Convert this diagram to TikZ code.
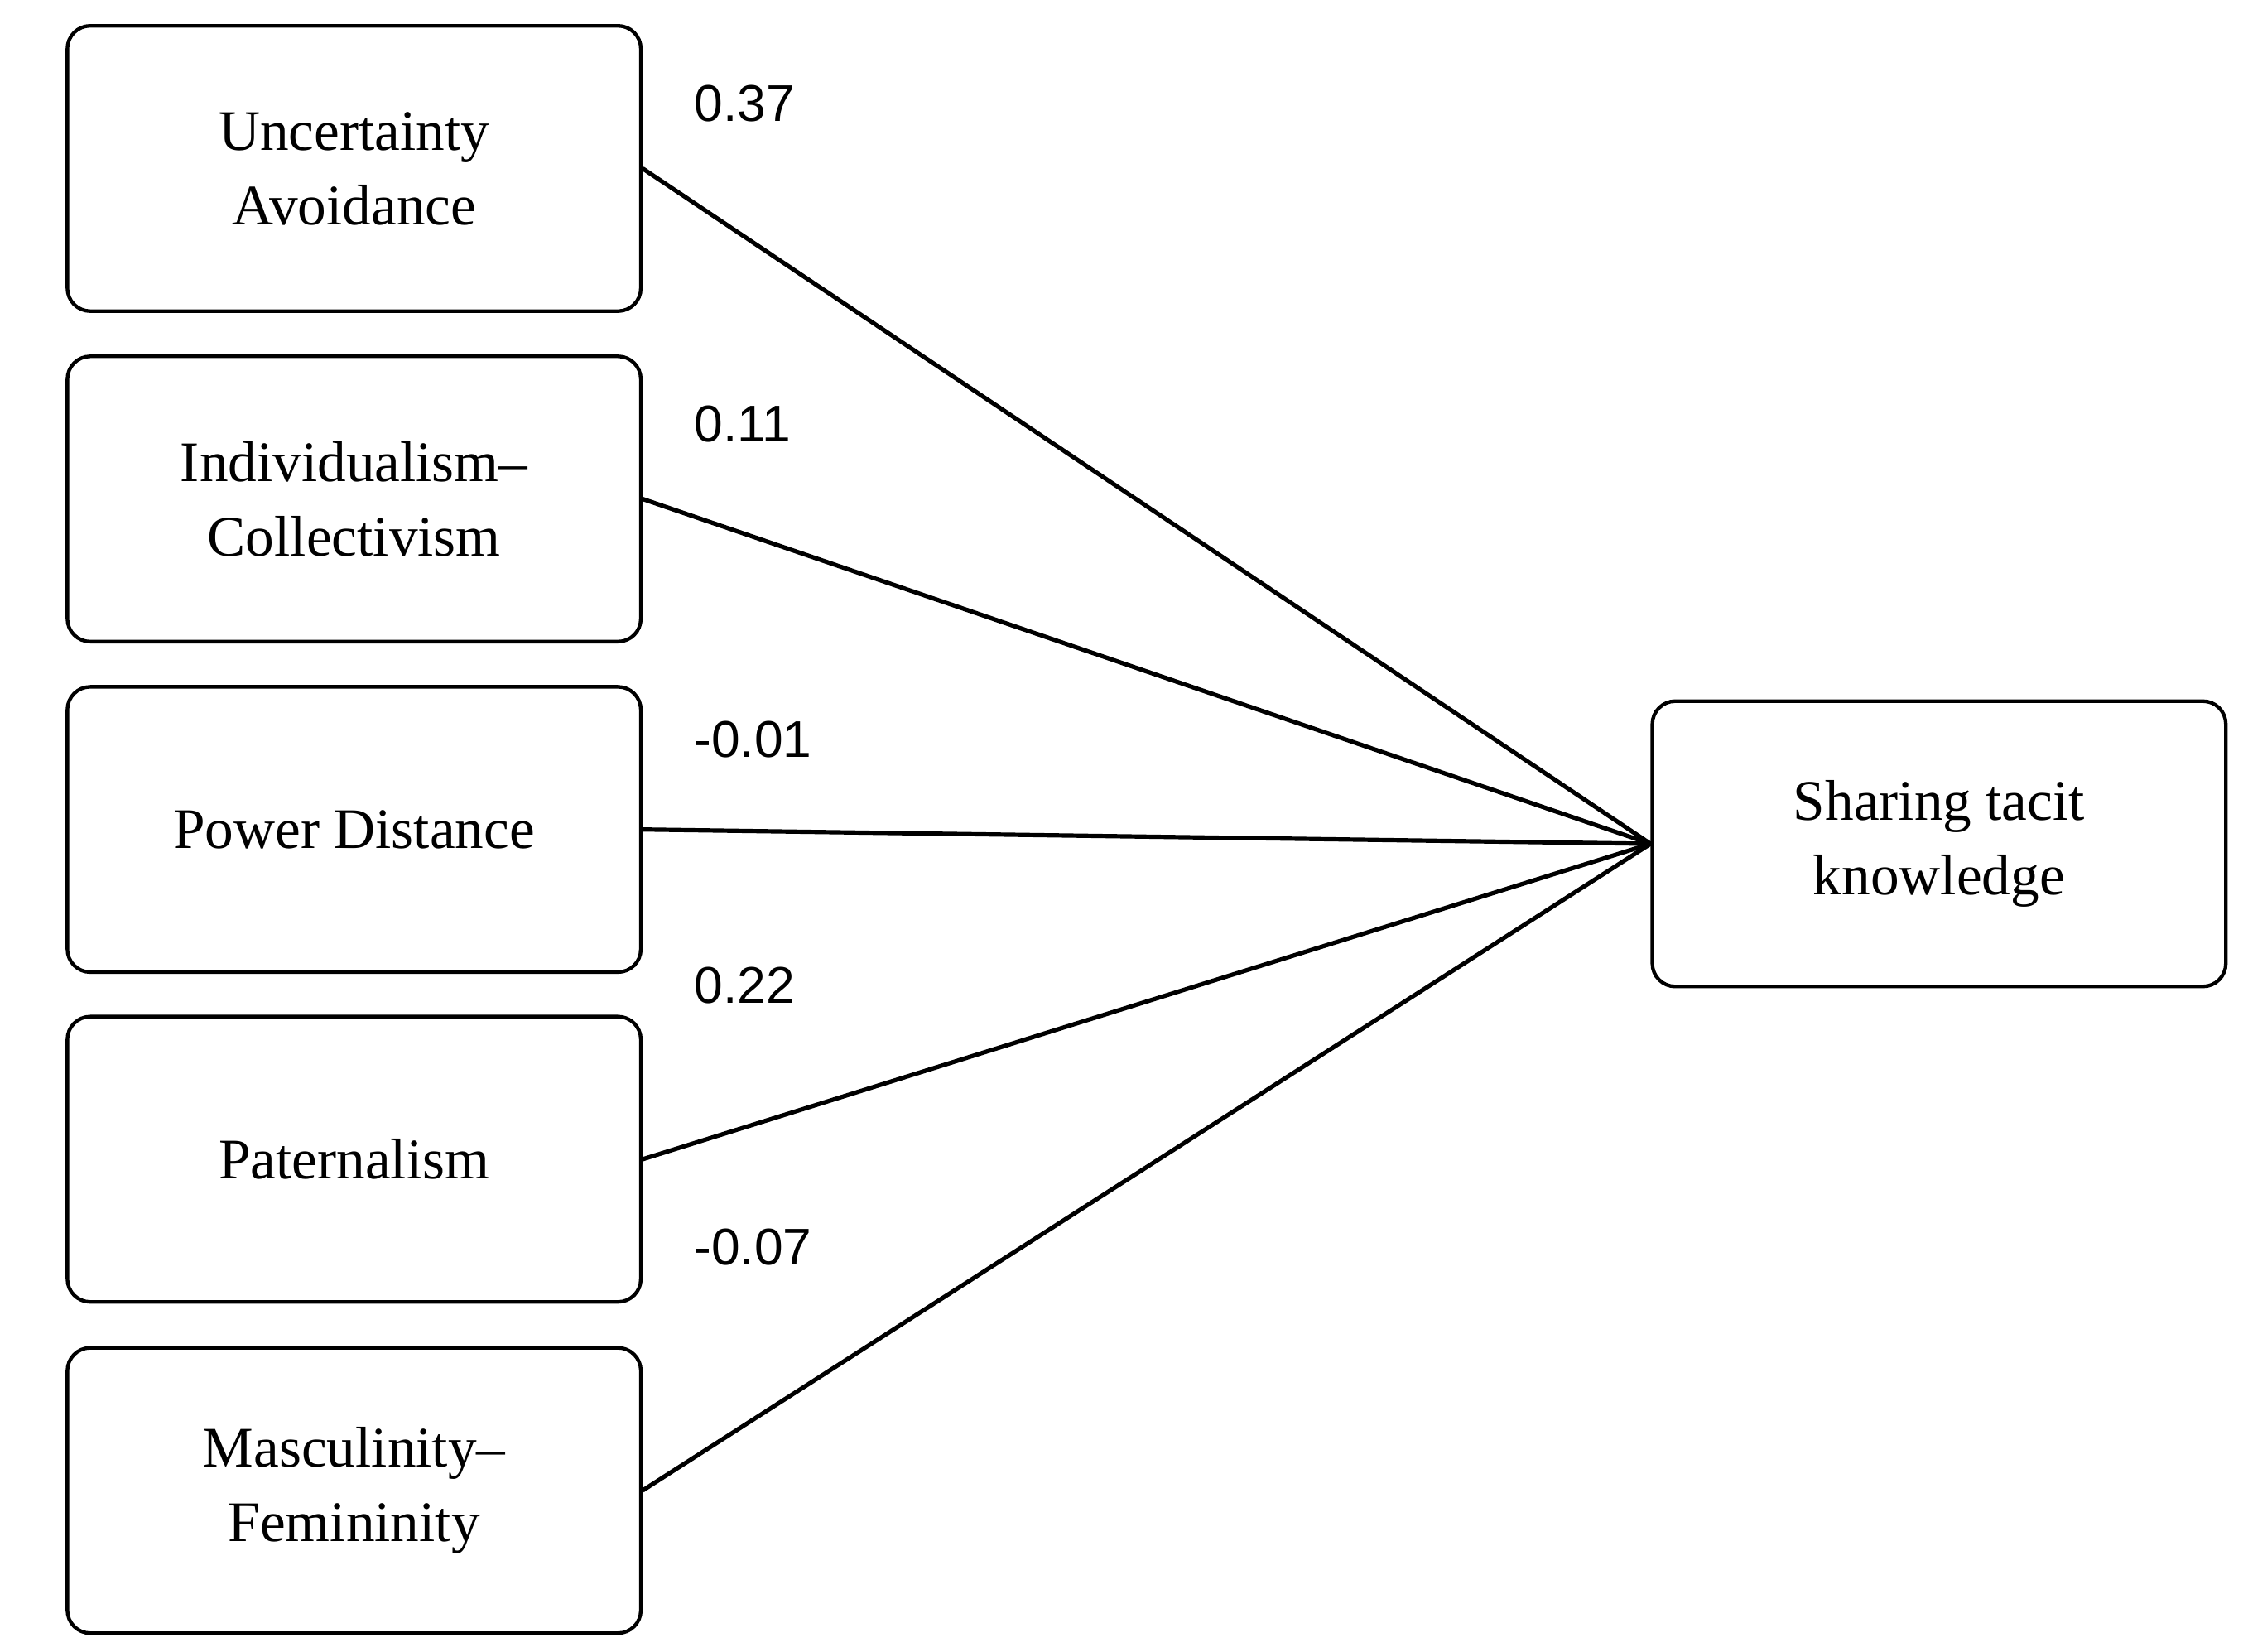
\documentclass[tikz,border=0pt]{standalone}
\usepackage{fontspec}
\setmainfont{Liberation Serif}
\newfontfamily\numfont{Liberation Sans}
\begin{document}
\begin{tikzpicture}[x=1pt,y=-1pt,
  box/.style={draw,line width=2.5pt,rounded corners=16pt,minimum width=400pt,minimum height=199pt,align=center,font=\fontsize{40}{52}\selectfont,inner sep=0pt},
  coef/.style={anchor=west,font=\numfont\fontsize{36}{40}\selectfont,inner sep=0pt},
  path/.style={line width=3pt}]
\useasboundingbox (0,0) rectangle (1568,1152);
\node[box] (ua) at (247,117.5) {Uncertainty\\Avoidance};
\node[box] (ic) at (247,348) {Individualism--\\Collectivism};
\node[box] (pd) at (247,578.5) {Power Distance};
\node[box] (pa) at (247,808.5) {Paternalism};
\node[box] (mf) at (247,1039.5) {Masculinity--\\Femininity};
\node[box] (st) at (1352.5,588.5) {Sharing tacit\\knowledge};
\draw[path] (ua.east) -- (st.west);
\draw[path] (ic.east) -- (st.west);
\draw[path] (pd.east) -- (st.west);
\draw[path] (pa.east) -- (st.west);
\draw[path] (mf.east) -- (st.west);
\node[coef] (l1) at (484,72) {0.37};
\node[coef] (l2) at (484,296) {0.11};
\node[coef] (l3) at (484,516) {-0.01};
\node[coef] (l4) at (484,687) {0.22};
\node[coef] (l5) at (484,870) {-0.07};
\end{tikzpicture}
\end{document}
